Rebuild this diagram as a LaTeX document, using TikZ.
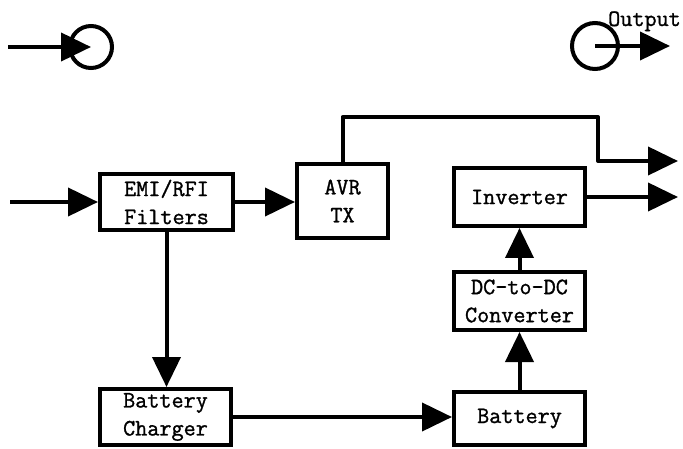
\documentclass[tikz,border=0pt]{standalone}
\usepackage{fontspec}
\usetikzlibrary{arrows.meta,positioning}

\newfontfamily\blockfamily{Latin Modern Mono}[FakeBold=1.2]
\newcommand{\blockfont}{\fontsize{23.5}{28}\selectfont\blockfamily}

\tikzset{
  block/.style={draw, rectangle, line width=4pt, align=center, inner sep=0pt, font=\blockfont},
  port/.style={draw, circle, line width=4pt, inner sep=0pt},
  flow/.style={-{Triangle[length=30pt,width=28pt]}, line width=4pt},
}

\begin{document}
\begin{tikzpicture}[x=1pt, y=-1pt]
    \useasboundingbox (0, 0) rectangle (683, 449);

    % Ports
    \node [port, minimum size=42pt] (src) at (91, 47) {};
    \node [port, minimum size=46pt] (load) at (595, 46) {};
    \node [font=\blockfont, anchor=base west, inner sep=0pt] (outlabel) at (608, 26) {Output};

    % Blocks
    \node [block, minimum width=133pt, minimum height=56pt] (emi) at (166.5, 202) {EMI/RFI\\Filters};
    \node [block, minimum width=91pt, minimum height=74pt] (avr) at (342.5, 201) {AVR\\TX};
    \node [block, minimum width=131pt, minimum height=58pt] (inv) at (519.5, 197) {Inverter};
    \node [block, minimum width=131pt, minimum height=58pt] (dcdc) at (519.5, 301) {DC-to-DC\\Converter};
    \node [block, minimum width=131pt, minimum height=53pt] (bat) at (519.5, 418.5) {Battery};
    \node [block, minimum width=131pt, minimum height=56pt] (chg) at (165.5, 417) {Battery\\Charger};

    % Free ends
    \coordinate (feed) at (8, 47);
    \coordinate (outtip) at (670, 46);
    \coordinate (acin) at (10, 202);
    \coordinate (turn) at (598, 117);
    \coordinate (bypass) at (678, 161);
    \coordinate (acout) at (678, 197);

    % Connections
    \draw [flow] (feed) -- (src.center);
    \draw [flow] (load.center) -- (outtip);
    \draw [flow] (acin) -- (emi.west);
    \draw [flow] (emi.east) -- (avr.west |- emi.east);
    \draw [flow, line join=round] (avr.north) |- (turn) |- (bypass);
    \draw [flow] (inv.east) -- (acout);
    \draw [flow] (emi.south) -- (emi.south |- chg.north);
    \draw [flow] (chg.east) -- (chg.east -| bat.west);
    \draw [flow] (bat.north) -- (dcdc.south);
    \draw [flow] (dcdc.north) -- (inv.south);
\end{tikzpicture}
\end{document}
